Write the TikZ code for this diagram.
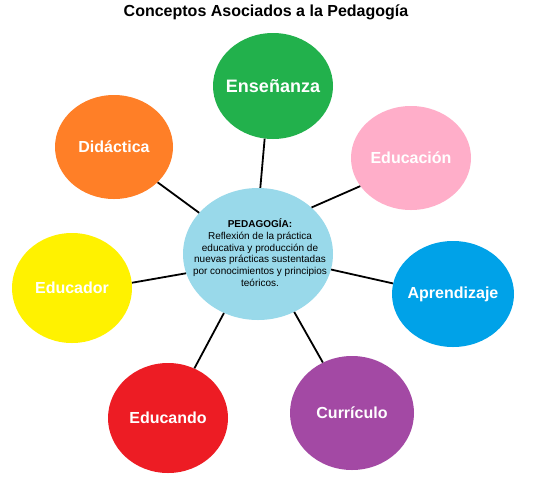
\documentclass[tikz,border=0pt]{standalone}
\usepackage{fontspec}
\setmainfont{Liberation Sans}
\usetikzlibrary{shapes.geometric}
\definecolor{cgreen}{HTML}{22B14C}
\definecolor{cpink}{HTML}{FFAEC9}
\definecolor{cblue}{HTML}{00A2E8}
\definecolor{cpurple}{HTML}{A349A4}
\definecolor{cred}{HTML}{ED1C24}
\definecolor{cyellow}{HTML}{FFF200}
\definecolor{corange}{HTML}{FF7F27}
\definecolor{clight}{HTML}{99D9EA}
\tikzset{
  bubble/.style={ellipse, draw=none, inner sep=0pt},
  bubtext/.style={text=white, font=\fontsize{16}{19}\selectfont\bfseries, inner sep=0pt},
  link/.style={line width=1.8pt, black},
}
\begin{document}
\begin{tikzpicture}[x=1pt,y=-1pt]
\useasboundingbox (0,0) rectangle (540,480);
\fill[white] (0,0) rectangle (540,480);
\node[font=\fontsize{16}{19}\selectfont\bfseries, inner sep=0pt] (title) at (266,12) {Conceptos Asociados a la Pedagogía};
% bubbles
\node[bubble, fill=clight, minimum width=150pt, minimum height=132pt] (c) at (258,254) {};
\node[bubble, fill=cgreen, minimum width=120pt, minimum height=106pt] (ens) at (273,86) {};
\node[bubble, fill=corange, minimum width=118pt, minimum height=104pt] (did) at (114,147) {};
\node[bubble, fill=cpink, minimum width=120pt, minimum height=104pt] (edn) at (411,158) {};
\node[bubble, fill=cyellow, minimum width=120pt, minimum height=110pt] (edr) at (72,288) {};
\node[bubble, fill=cblue, minimum width=122pt, minimum height=106pt] (apr) at (453,294) {};
\node[bubble, fill=cred, minimum width=120pt, minimum height=110pt] (edo) at (168,418) {};
\node[bubble, fill=cpurple, minimum width=124pt, minimum height=114pt] (cur) at (352,413) {};
% labels
\node[bubtext, font=\fontsize{18}{21}\selectfont\bfseries] (tens) at (ens) {Enseñanza};
\node[bubtext] (tdid) at (did) {Didáctica};
\node[bubtext] (tedn) at (edn) {Educación};
\node[bubtext] (tedr) at (edr) {Educador};
\node[bubtext] (tapr) at (apr) {Aprendizaje};
\node[bubtext] (tedo) at (edo) {Educando};
\node[bubtext] (tcur) at (cur) {Currículo};
\node[align=center, font=\fontsize{10}{11.7}\selectfont, inner sep=0pt] (tc) at (260,252.5)
  {\textbf{PEDAGOGÍA:}\\Reflexión de la práctica\\educativa y producción de\\nuevas prácticas sustentadas\\por conocimientos y principios\\teóricos.};
% links
\draw[link] (c.88) -- (ens.261);
\draw[link] (c.145) -- (did.321);
\draw[link] (c.195) -- (edr.5);
\draw[link] (c.41) -- (edn.209);
\draw[link] (c.348) -- (apr.170);
\draw[link] (c.302) -- (cur.120);
\draw[link] (c.240) -- (edo.62);
\end{tikzpicture}
\end{document}
